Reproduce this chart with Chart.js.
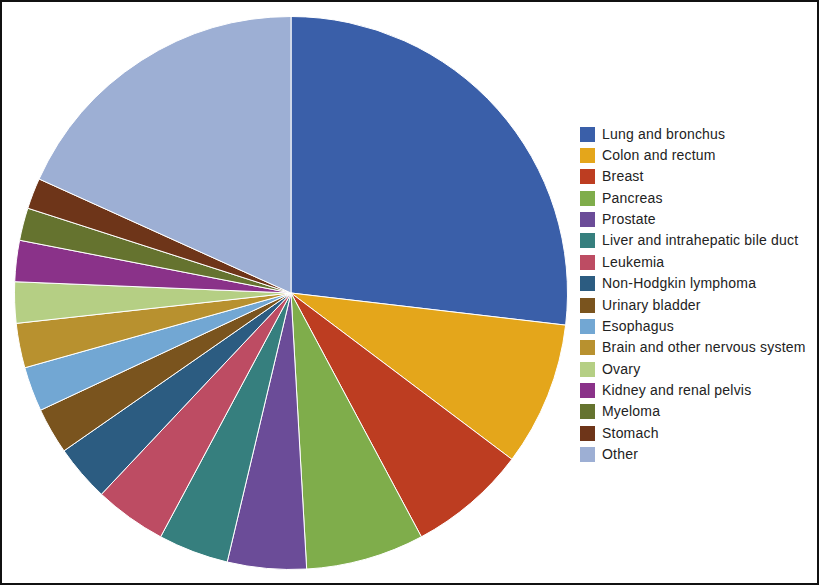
<!DOCTYPE html>
<html lang="en">
<head>
    <meta charset="UTF-8">
    <title>Cancer deaths by site</title>
    <script src="https://cdn.jsdelivr.net/npm/chart.js@4.4.0/dist/chart.umd.min.js"></script>
    <style>
        body {
            margin: 0;
            padding: 0;
            background-color: #fff;
            font-family: "Liberation Sans", Arial, sans-serif;
        }
        .frame {
            position: absolute;
            left: 0;
            top: 0;
            width: 819px;
            height: 585px;
            box-sizing: border-box;
            border: 2px solid #111;
        }
        #pieChart {
            position: absolute;
            left: 14px;
            top: 16px;
        }
        .legend-item {
            position: absolute;
            left: 580px;
            height: 15px;
            white-space: nowrap;
        }
        .legend-box {
            position: absolute;
            left: 0;
            top: 0;
            width: 15px;
            height: 15px;
        }
        .legend-text {
            position: absolute;
            left: 22px;
            top: 0;
            font-size: 14px;
            letter-spacing: 0.2px;
            line-height: 15px;
            color: #222;
        }
    </style>
</head>
<body>
    <div class="frame"></div>
    <canvas id="pieChart" width="554" height="554"></canvas>
    <div id="legend"></div>

    <script>
        const sites = [
            'Lung and bronchus', 'Colon and rectum', 'Breast', 'Pancreas', 'Prostate',
            'Liver and intrahepatic bile duct', 'Leukemia', 'Non-Hodgkin lymphoma',
            'Urinary bladder', 'Esophagus', 'Brain and other nervous system', 'Ovary',
            'Kidney and renal pelvis', 'Myeloma', 'Stomach', 'Other'
        ];
        // share of deaths, %
        const shares = [26.8, 8.4, 6.9, 6.9, 4.6, 4.1, 4.2, 3.3, 2.7, 2.6, 2.6, 2.4, 2.4, 1.9, 1.8, 18.2];
        const colors = [
            '#3a5fa9', '#e4a61b', '#bd3d21', '#7fad4b', '#6b4c98', '#367f7e', '#bd4c63', '#2c5c81',
            '#7a541e', '#72a7d3', '#b8912f', '#b5cf84', '#8a3289', '#65732f', '#6e3519', '#9dafd4'
        ];

        const ctx = document.getElementById('pieChart').getContext('2d');
        const pieChart = new Chart(ctx, {
            type: 'pie',
            data: {
                labels: sites,
                datasets: [{
                    data: shares,
                    backgroundColor: colors,
                    borderColor: '#ffffff',
                    borderWidth: 1
                }]
            },
            options: {
                responsive: false,
                animation: false,
                layout: { padding: 0 },
                plugins: {
                    legend: { display: false },
                    tooltip: { enabled: false }
                }
            }
        });

        // legend on the right
        const legend = document.getElementById('legend');
        sites.forEach((name, i) => {
            const item = document.createElement('div');
            item.className = 'legend-item';
            item.style.top = (126.7 + i * 21.35) + 'px';
            item.innerHTML = `<div class="legend-box" style="background:${colors[i]}"></div>
                              <div class="legend-text">${name}</div>`;
            legend.appendChild(item);
        });
    </script>
</body>
</html>
